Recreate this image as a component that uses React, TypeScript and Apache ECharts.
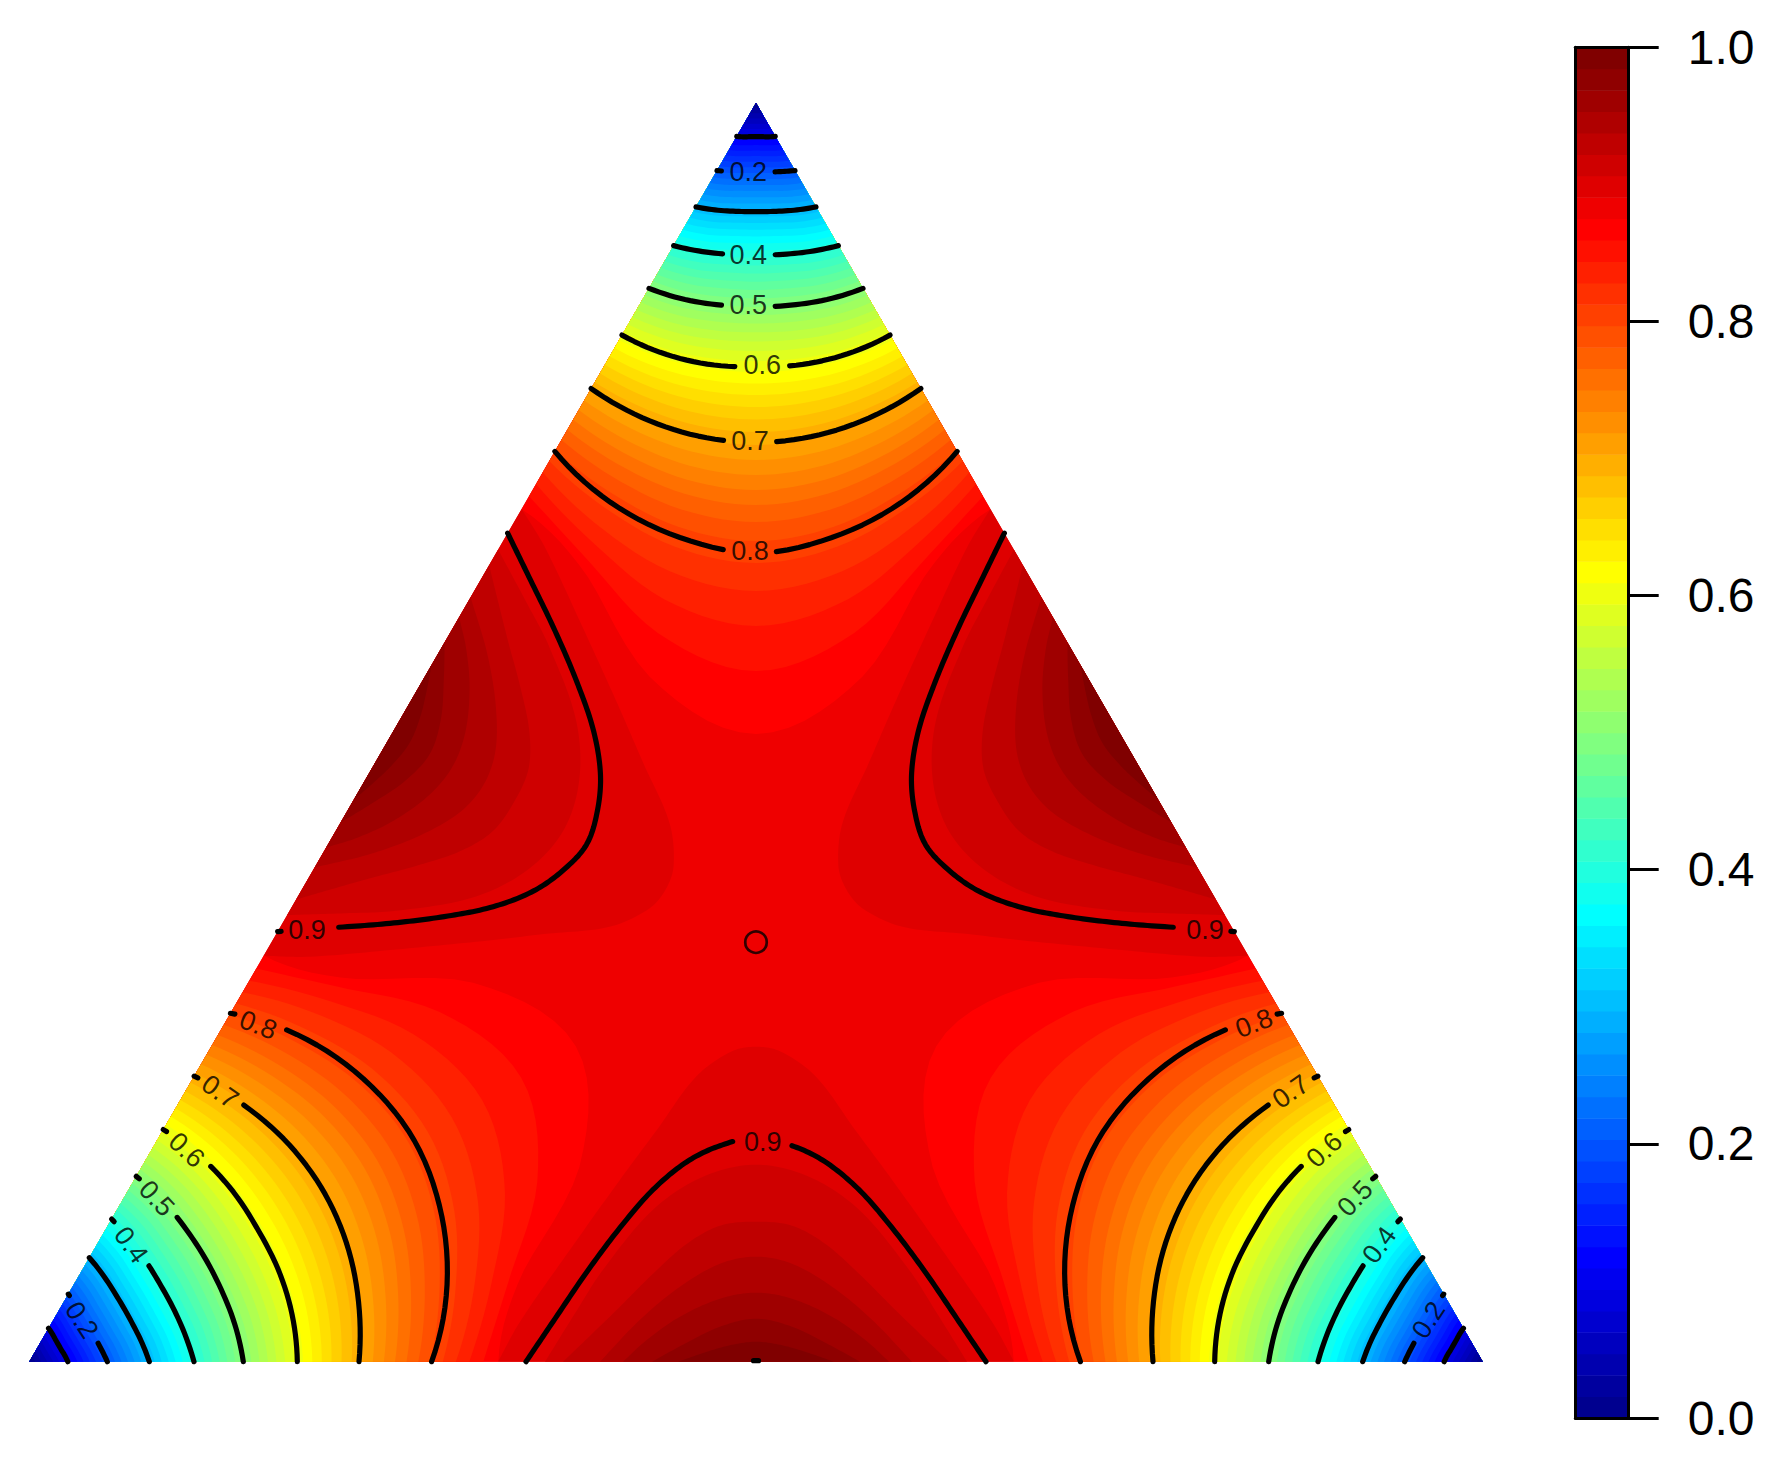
import React, { useEffect, useRef } from "react";
import * as echarts from "echarts";

// ---- data -----------------------------------------------------------------
// Chart units: one unit is one pixel of the reference; the triangle side is 1453.4.
const triangleSide = 1453.4;
const triangleHeight = 1258.7;

const colorBands = [
  "#00008F","#00009F","#0000AF","#0000BF","#0000CF","#0000DF","#0000EF","#0000FF",
  "#0010FF","#0020FF","#0030FF","#0040FF","#0050FF","#0060FF","#0070FF","#0080FF",
  "#008FFF","#009FFF","#00AFFF","#00BFFF","#00CFFF","#00DFFF","#00EFFF","#00FFFF",
  "#10FFEF","#20FFDF","#30FFCF","#40FFBF","#50FFAF","#60FF9F","#70FF8F","#80FF80",
  "#8FFF70","#9FFF60","#AFFF50","#BFFF40","#CFFF30","#DFFF20","#EFFF10","#FFFF00",
  "#FFEF00","#FFDF00","#FFCF00","#FFBF00","#FFAF00","#FF9F00","#FF8F00","#FF8000",
  "#FF7000","#FF6000","#FF5000","#FF4000","#FF3000","#FF2000","#FF1000","#FF0000",
  "#EF0000","#DF0000","#CF0000","#BF0000","#AF0000","#9F0000","#8F0000","#800000",
];

// Distance from a corner to each band boundary (k/64, k = 1..56),
// read on the edge, at 10 deg, at 20 deg and on the median (30 deg).
const cornerBandRadii = [
  [5.9,5.5,5.2,5.1],[11.9,11,10.5,10.3],[17.9,16.6,15.8,15.5],[23.9,22.1,21,20.7],
  [29.9,27.8,26.4,26],[35.9,33.4,31.8,31.2],[42,39.3,37.4,36.7],[48,45,42.9,42.1],
  [54.2,50.8,48.4,47.6],[60.4,56.6,54,53.1],[66.6,62.5,59.7,58.7],[72.9,68.5,65.3,64.3],
  [79.2,74.5,71.1,70],[85.7,80.7,77.1,76],[92.2,87,83.2,82],[98.7,93.3,89.2,88],
  [105.3,99.8,95.6,94.3],[112,106.3,102,100.6],[118.7,113,108.4,107],[125.5,119.7,115,113.5],
  [132.4,126.5,121.5,120],[139.3,133.2,128.2,126.7],[146.3,140.2,135,133.4],[153.4,147.2,142,140.3],
  [160.6,154.3,149,147.3],[167.8,161.6,156.2,154.6],[175.2,169.3,164,162.5],[182.7,177.1,172,170.6],
  [190.3,184.9,180,178.7],[198,192.9,188.2,187],[205.8,201,196.6,195.4],[214,209.4,205.2,204],
  [222,217.6,213.4,212],[230.2,226,222,220.5],[238.6,234.7,231,229.3],[247.1,243.5,240,238.5],
  [255.8,252.5,249.4,248],[264.7,261.9,259.2,258],[273.7,271.7,269.8,269],[283,282,281,280.5],
  [292.5,292.3,292.1,292],[302.2,303,303.7,304],[312.2,314,315.7,316.5],[322.4,325.2,327.8,329],
  [332.8,336.7,340.3,342],[343.5,349.2,354.6,357],[354.5,361.9,368.9,372],[365.7,374.6,383.2,387],
  [377.2,387.6,397.5,402],[389,401.6,413.6,419],[401,416.5,431.3,438],[413.5,433,451.6,460],
  [426.5,452.3,477,488],[440,470,506,523],[454,488,541,568],[469,500,587,631],
];

// Half outline [distance along edge from its midpoint, height above edge]
// of the band boundaries k/64, k = 57..63, around an edge midpoint.
const edgeBandOutlines = [
  [[258,0],[236,40],[186,112],[136,182],[99,232],[60,285],[25,310],[0,315]],
  [[211,0],[180,50],[153,92],[103,152],[53,185],[0,197]],
  [[193,0],[169,23],[136,55],[103,88],[69,118],[36,136],[0,140]],
  [[156,0],[116,42],[76,75],[36,98],[0,105]],
  [[133,0],[109,22],[76,45],[36,63],[0,69]],
  [[104,0],[73,17],[36,35],[0,43]],
  [[78,0],[55,8],[28,16],[0,20]],
];

// Labelled black contours around a corner: same four readings.
const contourLevels = ["0.1","0.2","0.3","0.4","0.5","0.6","0.7","0.8"];
const topContourRadii = [
  [38.5,36,34.2,33.7],[78,73,70,69],[120,114,110,108.7],[164.7,158,153.7,152],
  [214,209,205.2,204],[268,267,265.5,264],[329.7,334.5,338,339.5],[402.3,425,441,450],
];
const sideContourRadii = [
  [38.5,36,34.2,33.7],[78,73,70,69],[120,114,110,108.7],[164.7,158,153.7,152],
  [214,209,205.2,204],[268,267,265.5,264],[329.7,334.5,338.5,340],[402.3,424,438,444],
];
// Visible stretches of each contour (degrees from the edge), the rest is the label gap.
const topStretches = [
  [[0,60]],[[0,3],[45.5,60]],[[0,60]],[[0,17.5],[37.2,60]],
  [[0,20.3],[35.4,60]],[[0,25.4],[37.3,60]],[[0,24.5],[33.5,60]],[[0,25.8],[32.6,60]],
];
const sideStretches = [
  [[0,60]],[[0,15],[58.8,60]],[[0,60]],[[0,38.7],[58.8,60]],
  [[0,44.3],[59,60]],[[0,47.1],[59.2,60]],[[0,50.1],[59.3,60]],[[0,52.2],[59.4,60]],
];

const contour09Outline = [[230,0],[203,40],[169,90],[136,134],[103,172],[69,200],[36,216],[0,224]];
const contour10Outline = [[2.5,1],[0,1]];

// Inline labels.
const contourLabels = [
  { text: "0.2", px: [748.3,171.7], rotate: 0 },
  { text: "0.4", px: [748.3,255], rotate: 0 },
  { text: "0.5", px: [748.3,305], rotate: 0 },
  { text: "0.6", px: [762.3,365], rotate: 0 },
  { text: "0.7", px: [750,440.7], rotate: 0 },
  { text: "0.8", px: [750,551], rotate: 0 },
  { text: "0.9", px: [762.7,1141.7], rotate: 0 },
  { text: "0.2", px: [81.7,1320], rotate: -57 },
  { text: "0.4", px: [131,1245], rotate: -54 },
  { text: "0.5", px: [156.7,1198.3], rotate: -47 },
  { text: "0.6", px: [186.7,1150], rotate: -43 },
  { text: "0.7", px: [220,1091.7], rotate: -35 },
  { text: "0.8", px: [258.3,1025], rotate: -21 },
  { text: "0.9", px: [307,929.6], rotate: 0 },
  { text: "0.2", px: [1428.3,1320], rotate: 57 },
  { text: "0.4", px: [1379.3,1245], rotate: 54 },
  { text: "0.5", px: [1355,1198.3], rotate: 47 },
  { text: "0.6", px: [1324.3,1150], rotate: 43 },
  { text: "0.7", px: [1290.7,1091.7], rotate: 35 },
  { text: "0.8", px: [1254,1023.3], rotate: 21 },
  { text: "0.9", px: [1205,929.6], rotate: 0 },
];

// ---- geometry helpers ------------------------------------------------------
type Pt = [number, number];
const S = triangleSide;
const H = triangleHeight;
const fromPx = (p: number[]): Pt => [p[0] - 29.3, 1361.7 - p[1]];
const rad = (d: number) => (d * Math.PI) / 180;

// Smooth drawing of a curve through the read knots (as a line's "smooth" would do).
function catmull(k: number[], u: number): number {
  const i = Math.min(Math.floor(u), k.length - 2);
  const t = u - i;
  const p1 = k[i], p2 = k[i + 1];
  const p0 = i > 0 ? k[i - 1] : k.length > 2 ? 3 * k[0] - 3 * k[1] + k[2] : 2 * k[0] - k[1];
  const last = k.length - 1;
  const p3 = i + 2 <= last ? k[i + 2] : k.length > 2 ? 3 * k[last] - 3 * k[last - 1] + k[last - 2] : 2 * k[last] - k[last - 1];
  return 0.5 * (2 * p1 + (p2 - p0) * t + (2 * p0 - 5 * p1 + 4 * p2 - p3) * t * t + (3 * p1 - p0 - 3 * p2 + p3) * t * t * t);
}

const cornerPoint = (corner: number, r: number, th: number): Pt => {
  if (corner === 0) return [r * Math.cos(rad(th)), r * Math.sin(rad(th))];
  if (corner === 1) return [S - r * Math.cos(rad(th)), r * Math.sin(rad(th))];
  return [S / 2 + r * Math.cos(rad(th - 120)), H + r * Math.sin(rad(th - 120))];
};

function arc(corner: number, radii: number[], a = 0, b = 60): Pt[] {
  const knots = [radii[0], radii[1], radii[2], radii[3], radii[2], radii[1], radii[0]];
  const n = Math.max(1, Math.ceil((b - a) / 1.5));
  const out: Pt[] = [];
  for (let i = 0; i <= n; i++) {
    const th = a + ((b - a) * i) / n;
    out.push(cornerPoint(corner, catmull(knots, Math.min(th / 10, 6)), th));
  }
  return out;
}

const edgePoint = (edge: number, s: number, h: number): Pt => {
  const c = Math.sqrt(3) / 2;
  if (edge === 0) return [S / 2 + s, h];
  if (edge === 1) return [S / 4 + 0.5 * s + c * h, H / 2 + c * s - 0.5 * h];
  return [(3 * S) / 4 - 0.5 * s - c * h, H / 2 + c * s - 0.5 * h];
};

// chord-length Hermite through the outline knots, mirrored around the midpoint
function lens(edge: number, half: number[][]): Pt[] {
  const p = [...half, ...half.slice(0, -1).reverse().map((q) => [-q[0], q[1]])];
  const n = p.length;
  const d: number[] = [];
  for (let i = 0; i < n - 1; i++) d.push(Math.hypot(p[i + 1][0] - p[i][0], p[i + 1][1] - p[i][1]));
  const tan = (i: number, c: number) => {
    if (i === 0) return (p[1][c] - p[0][c]) / d[0];
    if (i === n - 1) return (p[n - 1][c] - p[n - 2][c]) / d[n - 2];
    return (p[i + 1][c] - p[i - 1][c]) / (d[i] + d[i - 1]);
  };
  const out: Pt[] = [];
  const per = 14;
  for (let i = 0; i < n - 1; i++) {
    for (let j = i === 0 ? 0 : 1; j <= per; j++) {
      const t = j / per;
      const h00 = 2 * t * t * t - 3 * t * t + 1, h10 = t * t * t - 2 * t * t + t;
      const h01 = -2 * t * t * t + 3 * t * t, h11 = t * t * t - t * t;
      const val = (c: number) => h00 * p[i][c] + h10 * d[i] * tan(i, c) + h01 * p[i + 1][c] + h11 * d[i] * tan(i + 1, c);
      out.push(edgePoint(edge, val(0), Math.max(0, val(1))));
    }
  }
  return out;
}

function buildFills() {
  const fills: { pts: Pt[]; fill: string }[] = [];
  fills.push({ pts: [[0, 0], [S, 0], [S / 2, H]], fill: colorBands[56] });
  for (let k = 56; k >= 1; k--) {
    for (let c = 0; c < 3; c++) {
      fills.push({ pts: [cornerPoint(c, 0, 0), ...arc(c, cornerBandRadii[k - 1])], fill: colorBands[k - 1] });
    }
  }
  edgeBandOutlines.forEach((o, i) => {
    for (let e = 0; e < 3; e++) fills.push({ pts: lens(e, o), fill: colorBands[57 + i] });
  });
  return fills;
}

function buildLines(): Pt[][] {
  const lines: Pt[][] = [];
  contourLevels.forEach((_, i) => {
    for (let c = 0; c < 3; c++) {
      const stretches = c === 2 ? topStretches[i] : sideStretches[i];
      const radii = c === 2 ? topContourRadii[i] : sideContourRadii[i];
      stretches.forEach(([a, b]) => lines.push(arc(c, radii, a, b)));
    }
  });
  const gaps: { px: number[]; r: number }[] = [
    { px: [762.5, 1141], r: 27.5 },
    { px: [310, 928], r: 28 },
    { px: [1202, 928], r: 28 },
  ];
  for (let e = 0; e < 3; e++) {
    const g = fromPx(gaps[e].px);
    let cur: Pt[] = [];
    lens(e, contour09Outline).forEach((p) => {
      if (Math.hypot(p[0] - g[0], p[1] - g[1]) < gaps[e].r) {
        if (cur.length) lines.push(cur);
        cur = [];
      } else cur.push(p);
    });
    if (cur.length) lines.push(cur);
  }
  lines.push(lens(0, contour10Outline));
  return lines;
}

export default function App() {
  const ref = useRef<HTMLDivElement>(null);
  useEffect(() => {
    document.body.style.margin = "0";
    const chart = echarts.init(ref.current!, undefined, { renderer: "svg" });
    const fills = buildFills();
    const lines = buildLines();
    const font = "'Liberation Sans', Arial, sans-serif";
    const option: any = {
      animation: false,
      backgroundColor: "#ffffff",
      grid: [
        { left: 29.3, top: 103, width: S, height: H },
        { left: 1575.3, top: 47.3, width: 53.4, height: 1370.7 },
      ],
      xAxis: [
        { type: "value", gridIndex: 0, min: 0, max: S, show: false },
        { type: "value", gridIndex: 1, min: 0, max: 1, position: "bottom", z: 10,
          axisLine: { show: true, onZero: false, lineStyle: { color: "#000", width: 3 } },
          axisTick: { show: false }, axisLabel: { show: false }, splitLine: { show: false } },
        { type: "value", gridIndex: 1, min: 0, max: 1, position: "top", z: 10,
          axisLine: { show: true, onZero: false, lineStyle: { color: "#000", width: 3 } },
          axisTick: { show: false }, axisLabel: { show: false }, splitLine: { show: false } },
      ],
      yAxis: [
        { type: "value", gridIndex: 0, min: 0, max: H, show: false },
        { type: "value", gridIndex: 1, min: 0, max: 1, interval: 0.2, position: "right", z: 10,
          axisLine: { show: true, onZero: false, lineStyle: { color: "#000", width: 3 } },
          axisTick: { show: true, length: 30, lineStyle: { color: "#000", width: 3 } },
          axisLabel: { show: true, margin: 59, color: "#000", fontSize: 48, fontFamily: font,
            formatter: (v: number) => v.toFixed(1) },
          splitLine: { show: false } },
        { type: "value", gridIndex: 1, min: 0, max: 1, position: "left", z: 10,
          axisLine: { show: true, onZero: false, lineStyle: { color: "#000", width: 3 } },
          axisTick: { show: false }, axisLabel: { show: false }, splitLine: { show: false } },
      ],
      series: [
        {
          type: "custom", coordinateSystem: "cartesian2d", xAxisIndex: 0, yAxisIndex: 0,
          silent: true, clip: false, z: 2,
          data: fills.map((_, i) => [i, i]),
          encode: { x: 0, y: 1 },
          renderItem: (params: any, api: any) => {
            const f = fills[params.dataIndex];
            return { type: "polygon", shape: { points: f.pts.map((p) => api.coord(p)) }, style: { fill: f.fill } };
          },
        },
        {
          type: "custom", coordinateSystem: "cartesian2d", xAxisIndex: 1, yAxisIndex: 1,
          silent: true, clip: false, z: 2,
          data: colorBands.map((_, i) => [0, i / 64, (i + 1) / 64]),
          encode: { x: 0, y: [1, 2] },
          renderItem: (params: any, api: any) => {
            const a = api.coord([0, api.value(1)]);
            const b = api.coord([1, api.value(2)]);
            return { type: "rect", shape: { x: a[0], y: b[1], width: b[0] - a[0], height: a[1] - b[1] + 0.5 },
              style: { fill: colorBands[params.dataIndex] } };
          },
        },
        ...lines.map((pts) => ({
          type: "line", xAxisIndex: 0, yAxisIndex: 0, data: pts, symbol: "none", showSymbol: false,
          silent: true, clip: false, z: 5,
          lineStyle: { color: "#000", width: 5.2, cap: "round", join: "round" },
        })),
        {
          type: "scatter", xAxisIndex: 0, yAxisIndex: 0, silent: true, clip: false, z: 6,
          symbolSize: 21.5,
          itemStyle: { color: "rgba(0,0,0,0)", borderColor: "#000", borderWidth: 2.7 },
          data: [[S / 2, H / 3]],
        },
        {
          type: "scatter", xAxisIndex: 0, yAxisIndex: 0, silent: true, clip: false, z: 7,
          symbolSize: 0,
          data: contourLabels.map((l) => ({
            value: fromPx(l.px),
            label: { show: true, position: "inside", formatter: l.text, rotate: l.rotate, color: "#000",
              fontSize: 27, fontFamily: font, align: "center", verticalAlign: "middle" },
          })),
        },
      ],
    };
    chart.setOption(option);
    return () => chart.dispose();
  }, []);
  return <div ref={ref} style={{ width: 1784, height: 1467 }} />;
}
